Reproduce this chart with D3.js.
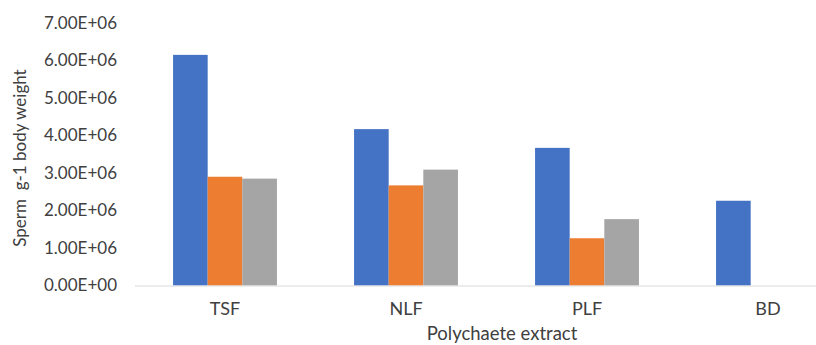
<!DOCTYPE html>
<html>
<head>
<meta charset="utf-8">
<script src="https://cdn.jsdelivr.net/npm/d3@7"></script>
<style>
  html, body { margin: 0; padding: 0; background: #fff; }
  svg { display: block; }
  text { font-family: Lato, "Open Sans", sans-serif; fill: #404040; }
</style>
</head>
<body>
<svg id="chart" width="816" height="345"></svg>
<script>
// Sperm count per gram body weight for each polychaete extract group
const categories = ["TSF", "NLF", "PLF", "BD"];
const seriesNames = ["s1", "s2", "s3"];
const series1 = [6.15e6, 4.17e6, 3.67e6, 2.26e6];
const series2 = [2.90e6, 2.67e6, 1.26e6, null];
const series3 = [2.85e6, 3.09e6, 1.77e6, null];
const yTicks = [0, 1e6, 2e6, 3e6, 4e6, 5e6, 6e6, 7e6];
const colors = ["#4472C4", "#ED7D31", "#A5A5A5"];

const seriesValues = [series1, series2, series3];

const svg = d3.select("#chart");
const left = 134.5, step = 181;
const plotTop = 23, plotBottom = 285.5;

const x = d3.scaleBand()
  .domain(categories)
  .range([left, left + step * categories.length])
  .paddingInner(0)
  .paddingOuter(0);

const groupWidth = x.bandwidth() * 0.574;
const xInner = d3.scaleBand()
  .domain(seriesNames)
  .range([(x.bandwidth() - groupWidth) / 2, (x.bandwidth() + groupWidth) / 2])
  .padding(0);

const y = d3.scaleLinear().domain([0, 7e6]).range([plotBottom, plotTop]);

// bars
const groups = svg.append("g").selectAll("g")
  .data(categories)
  .join("g")
  .attr("transform", d => `translate(${x(d)},0)`);

groups.selectAll("rect")
  .data((d, i) => seriesNames.map((s, j) => ({ s, j, v: seriesValues[j][i] })).filter(e => e.v != null))
  .join("rect")
  .attr("x", e => xInner(e.s))
  .attr("width", xInner.bandwidth())
  .attr("y", e => y(e.v))
  .attr("height", e => y(0) - y(e.v))
  .attr("fill", e => colors[e.j]);

// category axis
const xAxis = svg.append("g")
  .attr("transform", `translate(0,${plotBottom})`)
  .call(d3.axisBottom(x).tickSize(0).tickPadding(17));
xAxis.select(".domain").attr("stroke", "#D9D9D9").attr("stroke-width", 1.2);
xAxis.selectAll("text").style("font-size", "18px").attr("fill", "#404040");

// value axis (labels only)
const yAxis = svg.append("g")
  .attr("transform", `translate(117,0)`)
  .call(d3.axisLeft(y).tickValues(yTicks).tickSize(0).tickPadding(0)
    .tickFormat(v => {
      const e = v === 0 ? 0 : Math.floor(Math.log10(v));
      const m = v / Math.pow(10, e);
      return m.toFixed(2) + "E+" + String(e).padStart(2, "0");
    }));
yAxis.select(".domain").remove();
yAxis.selectAll("text").style("font-size", "17px").attr("fill", "#404040");

// axis titles
svg.append("text")
  .attr("x", 502)
  .attr("y", 340)
  .attr("text-anchor", "middle")
  .style("font-size", "18.5px")
  .text("Polychaete extract");

svg.append("text")
  .attr("transform", "translate(25.5,158) rotate(-90)")
  .attr("text-anchor", "middle")
  .style("font-size", "17px")
  .style("white-space", "pre")
  .text("Sperm  g-1 body weight");
</script>
</body>
</html>
